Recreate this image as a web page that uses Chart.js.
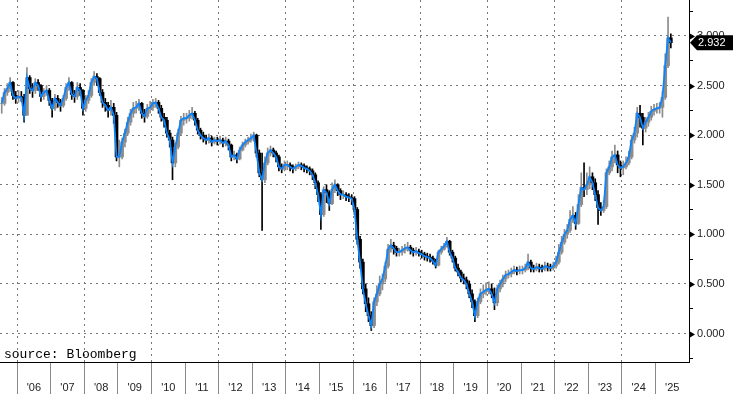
<!doctype html>
<html lang="en">
<head>
<meta charset="utf-8">
<title>Bloomberg chart</title>
<script src="https://cdn.jsdelivr.net/npm/chart.js@4.4.1/dist/chart.umd.min.js"></script>
<style>
  * { margin: 0; padding: 0; box-sizing: border-box; }
  html, body { background: #fff; }
  #canvas { display: block; }
</style>
</head>
<body>
<canvas id="canvas" width="733" height="394"></canvas>
<script>
// monthly bars, starting Jul 2005
var startYear = 2005
var startMonth = 7
var monthlyClose = [
  2.32, 2.43, 2.47, 2.53, 2.40, 2.37,                               // 2005 H2
  2.39, 2.38, 2.20, 2.58, 2.47, 2.45, 2.53, 2.50, 2.39, 2.43, 2.45, 2.35, // 2006
  2.27, 2.37, 2.33, 2.30, 2.37, 2.48, 2.53, 2.41, 2.39, 2.48, 2.45, 2.27, // 2007
  2.35, 2.40, 2.53, 2.59, 2.57, 2.43, 2.33, 2.30, 2.25, 2.28, 2.20, 1.78, // 2008
  1.78, 1.93, 2.02, 2.13, 2.22, 2.27, 2.28, 2.32, 2.22, 2.19, 2.27, 2.28, // 2009
  2.32, 2.33, 2.27, 2.18, 2.15, 2.02, 1.95, 1.72, 1.88, 2.02, 2.15, 2.17, // 2010
  2.17, 2.20, 2.22, 2.15, 2.05, 2.00, 1.97, 1.95, 1.97, 1.93, 1.95, 1.94, // 2011
  1.95, 1.92, 1.94, 1.90, 1.78, 1.80, 1.76, 1.85, 1.90, 1.93, 1.95, 1.97, // 2012
  2.00, 1.82, 1.62, 1.55, 1.72, 1.82, 1.85, 1.82, 1.78, 1.68, 1.66, 1.70, // 2013
  1.70, 1.68, 1.66, 1.68, 1.70, 1.69, 1.67, 1.66, 1.64, 1.60, 1.52, 1.40, // 2014
  1.20, 1.45, 1.42, 1.31, 1.45, 1.50, 1.44, 1.40, 1.40, 1.38, 1.37, 1.36, // 2015
  1.25, 0.95, 0.72, 0.45, 0.30, 0.18, 0.08, 0.32, 0.40, 0.50, 0.55, 0.68, // 2016
  0.85, 0.89, 0.86, 0.82, 0.82, 0.84, 0.86, 0.87, 0.84, 0.82, 0.83, 0.81, // 2017
  0.80, 0.78, 0.77, 0.76, 0.73, 0.69, 0.82, 0.85, 0.88, 0.93, 0.82, 0.76, // 2018
  0.66, 0.62, 0.56, 0.54, 0.50, 0.40, 0.32, 0.18, 0.32, 0.40, 0.42, 0.44, // 2019
  0.45, 0.40, 0.31, 0.45, 0.50, 0.55, 0.59, 0.60, 0.62, 0.64, 0.63, 0.64, // 2020
  0.64, 0.66, 0.72, 0.66, 0.65, 0.67, 0.66, 0.65, 0.68, 0.67, 0.66, 0.68, // 2021
  0.72, 0.82, 0.92, 1.00, 1.04, 1.15, 1.19, 1.11, 1.30, 1.47, 1.45, 1.50, // 2022
  1.58, 1.52, 1.40, 1.27, 1.24, 1.28, 1.62, 1.68, 1.78, 1.80, 1.70, 1.67, // 2023
  1.68, 1.72, 1.78, 1.95, 2.02, 2.22, 2.18, 2.07, 2.13, 2.18, 2.24, 2.26, // 2024
  2.27, 2.28, 2.38, 2.70, 2.98, 2.932                                // 2025 H1
]
var monthlyHigh = [
  2.38, 2.47, 2.52, 2.58, 2.54, 2.44,
  2.45, 2.44, 2.41, 2.68, 2.60, 2.52, 2.57, 2.56, 2.51, 2.47, 2.50, 2.47,
  2.37, 2.41, 2.40, 2.36, 2.40, 2.52, 2.58, 2.54, 2.45, 2.53, 2.52, 2.46,
  2.40, 2.45, 2.57, 2.64, 2.62, 2.58, 2.46, 2.37, 2.33, 2.35, 2.32, 2.23,
  1.95, 1.97, 2.06, 2.18, 2.26, 2.33, 2.34, 2.36, 2.33, 2.26, 2.31, 2.34,
  2.36, 2.37, 2.35, 2.30, 2.22, 2.18, 2.05, 1.98, 1.92, 2.06, 2.19, 2.22,
  2.22, 2.25, 2.28, 2.24, 2.17, 2.07, 2.03, 2.00, 2.01, 1.99, 1.98, 1.98,
  1.99, 1.97, 1.98, 1.96, 1.91, 1.84, 1.82, 1.88, 1.93, 1.96, 1.98, 2.01,
  2.03, 2.01, 1.85, 1.82, 1.78, 1.87, 1.89, 1.87, 1.84, 1.80, 1.71, 1.74,
  1.74, 1.72, 1.70, 1.71, 1.73, 1.72, 1.71, 1.69, 1.68, 1.66, 1.62, 1.54,
  1.42, 1.48, 1.50, 1.44, 1.52, 1.55, 1.51, 1.46, 1.44, 1.42, 1.41, 1.40,
  1.38, 1.27, 0.98, 0.75, 0.50, 0.36, 0.22, 0.36, 0.48, 0.58, 0.60, 0.72,
  0.90, 0.95, 0.92, 0.88, 0.86, 0.88, 0.90, 0.92, 0.89, 0.86, 0.87, 0.85,
  0.84, 0.82, 0.81, 0.80, 0.78, 0.75, 0.84, 0.88, 0.91, 0.97, 0.94, 0.84,
  0.78, 0.70, 0.64, 0.60, 0.57, 0.53, 0.44, 0.34, 0.36, 0.45, 0.49, 0.51,
  0.52, 0.50, 0.46, 0.49, 0.54, 0.59, 0.63, 0.64, 0.66, 0.68, 0.67, 0.68,
  0.68, 0.70, 0.80, 0.74, 0.69, 0.71, 0.70, 0.69, 0.72, 0.71, 0.70, 0.72,
  0.78, 0.90, 0.98, 1.05, 1.10, 1.24, 1.28, 1.22, 1.40, 1.62, 1.72, 1.62,
  1.68, 1.62, 1.56, 1.44, 1.32, 1.34, 1.66, 1.74, 1.84, 1.90, 1.84, 1.74,
  1.74, 1.78, 1.84, 1.99, 2.08, 2.28, 2.30, 2.22, 2.18, 2.23, 2.29, 2.31,
  2.32, 2.33, 2.44, 2.82, 3.19, 3.02
]
var monthlyLow = [
  2.22, 2.30, 2.40, 2.44, 2.36, 2.32,
  2.33, 2.34, 2.13, 2.20, 2.42, 2.38, 2.42, 2.45, 2.34, 2.36, 2.40, 2.30,
  2.18, 2.25, 2.28, 2.24, 2.28, 2.35, 2.45, 2.36, 2.33, 2.36, 2.40, 2.20,
  2.24, 2.32, 2.38, 2.50, 2.50, 2.40, 2.28, 2.24, 2.18, 2.20, 2.12, 1.74,
  1.68, 1.76, 1.88, 2.00, 2.10, 2.18, 2.22, 2.25, 2.17, 2.13, 2.17, 2.22,
  2.25, 2.28, 2.22, 2.14, 2.08, 1.98, 1.88, 1.55, 1.68, 1.86, 2.00, 2.10,
  2.12, 2.14, 2.16, 2.10, 2.01, 1.96, 1.93, 1.91, 1.92, 1.89, 1.91, 1.90,
  1.91, 1.88, 1.89, 1.85, 1.74, 1.75, 1.72, 1.75, 1.84, 1.88, 1.91, 1.93,
  1.94, 1.78, 1.58, 1.04, 1.52, 1.70, 1.79, 1.78, 1.73, 1.64, 1.62, 1.64,
  1.65, 1.64, 1.62, 1.64, 1.66, 1.65, 1.63, 1.62, 1.60, 1.55, 1.46, 1.33,
  1.05, 1.18, 1.32, 1.24, 1.30, 1.42, 1.39, 1.35, 1.36, 1.34, 1.33, 1.30,
  1.20, 0.90, 0.66, 0.40, 0.22, 0.12, 0.03, 0.06, 0.28, 0.38, 0.44, 0.52,
  0.66, 0.82, 0.80, 0.78, 0.78, 0.79, 0.81, 0.83, 0.80, 0.78, 0.79, 0.78,
  0.76, 0.74, 0.73, 0.72, 0.70, 0.66, 0.68, 0.80, 0.84, 0.87, 0.79, 0.72,
  0.63, 0.58, 0.52, 0.50, 0.45, 0.36, 0.26, 0.12, 0.16, 0.30, 0.36, 0.39,
  0.40, 0.36, 0.24, 0.28, 0.42, 0.47, 0.52, 0.56, 0.57, 0.60, 0.59, 0.60,
  0.60, 0.62, 0.64, 0.62, 0.62, 0.63, 0.62, 0.62, 0.63, 0.63, 0.63, 0.64,
  0.66, 0.70, 0.80, 0.90, 0.96, 1.02, 1.12, 1.05, 1.10, 1.28, 1.38, 1.40,
  1.46, 1.45, 1.34, 1.10, 1.19, 1.22, 1.26, 1.60, 1.64, 1.72, 1.62, 1.58,
  1.60, 1.66, 1.70, 1.76, 1.92, 1.98, 2.08, 1.90, 2.03, 2.09, 2.15, 2.20,
  2.22, 2.22, 2.18, 2.36, 2.68, 2.88
]

var yearTicks = [2006, 2007, 2008, 2009, 2010, 2011, 2012, 2013, 2014, 2015,
                 2016, 2017, 2018, 2019, 2020, 2021, 2022, 2023, 2024, 2025]
var yearLabels = ["'06", "'07", "'08", "'09", "'10", "'11", "'12", "'13", "'14", "'15",
                  "'16", "'17", "'18", "'19", "'20", "'21", "'22", "'23", "'24", "'25"]
var yTicks = [-0.25, 0, 0.25, 0.5, 0.75, 1, 1.25, 1.5, 1.75, 2, 2.25, 2.5, 2.75, 3, 3.25]
var lastValue = 2.932
var sourceText = 'source: Bloomberg'

function monthX(year, month) { return year + (month - 0.5) / 12 }

var linePts = [], bodyPts = [], wickPts = [], barColors = []
monthlyClose.forEach(function (c, i) {
  var m = startYear * 12 + (startMonth - 1) + i
  var x = monthX(Math.floor(m / 12), (m % 12) + 1)
  var prev = i > 0 ? monthlyClose[i - 1] : c
  linePts.push({ x: x, y: c })
  bodyPts.push({ x: x, y: [prev, c] })
  wickPts.push({ x: x, y: [monthlyLow[i], monthlyHigh[i]] })
  barColors.push(c >= prev ? '#8c8c8c' : '#000')
})

var isMajor = function (v) { return Math.abs(v * 2 - Math.round(v * 2)) < 1e-9 }
var labelFont = { family: 'Liberation Sans', size: 11 }

var extras = {
  id: 'extras',
  afterDraw: function (chart) {
    var ctx = chart.ctx
    var ys = chart.scales.y
    var right = chart.chartArea.right
    ctx.save()
    // arrow markers on major ticks
    ctx.fillStyle = '#000'
    yTicks.forEach(function (v) {
      if (!isMajor(v)) return
      var py = Math.round(ys.getPixelForValue(v)) + 0.5
      ctx.beginPath()
      ctx.moveTo(right + 1, py - 3)
      ctx.lineTo(right + 6, py)
      ctx.lineTo(right + 1, py + 3)
      ctx.closePath()
      ctx.fill()
    })
    // source note
    ctx.font = '13px "Liberation Mono"'
    ctx.textBaseline = 'alphabetic'
    ctx.fillText(sourceText, 4, 358)
    // last value tag
    var ly = ys.getPixelForValue(lastValue)
    ctx.beginPath()
    ctx.moveTo(right + 1, ly)
    ctx.lineTo(right + 8, ly - 7.5)
    ctx.lineTo(733, ly - 7.5)
    ctx.lineTo(733, ly + 7.5)
    ctx.lineTo(right + 8, ly + 7.5)
    ctx.closePath()
    ctx.fill()
    ctx.fillStyle = '#fff'
    ctx.font = '11px "Liberation Sans"'
    ctx.textBaseline = 'middle'
    ctx.fillText(lastValue.toFixed(3), right + 9, ly + 0.5)
    ctx.restore()
  }
}

var chart = new Chart(document.getElementById('canvas'), {
  type: 'line',
  data: {
    datasets: [
      { type: 'line', data: linePts, borderColor: '#0a84ff', borderWidth: 1.8, pointRadius: 0, tension: 0, order: 0 },
      { type: 'bar', data: bodyPts, backgroundColor: barColors, barThickness: 3, grouped: false, order: 1 },
      { type: 'bar', data: wickPts, backgroundColor: barColors, barThickness: 1, grouped: false, order: 2 }
    ]
  },
  options: {
    responsive: false,
    animation: false,
    devicePixelRatio: 1,
    layout: { padding: 0 },
    plugins: { legend: { display: false }, tooltip: { enabled: false } },
    scales: {
      x: {
        type: 'linear',
        min: 2005.49,
        max: 2025.999,
        offset: false,
        afterBuildTicks: function (scale) { scale.ticks = yearTicks.map(function (v) { return { value: v } }) },
        afterFit: function (scale) {
          scale.height = 32
          scale.paddingLeft = 0
          scale.paddingRight = 0
        },
        grid: {
          offset: false,
          color: function (c) { return c.tick && c.tick.value % 2 === 0 ? '#777' : 'rgba(0,0,0,0)' },
          tickColor: '#888',
          tickBorderDash: [],
          tickLength: 32
        },
        border: { display: true, color: '#000', dash: [2, 4] },
        ticks: {
          autoSkip: false,
          maxRotation: 0,
          labelOffset: 16.8,
          padding: -13,
          color: '#222',
          font: labelFont,
          callback: function (v) { var i = yearTicks.indexOf(v); return i >= 0 ? yearLabels[i] : '' }
        }
      },
      y: {
        position: 'right',
        min: -0.287,
        max: 3.362,
        afterBuildTicks: function (scale) { scale.ticks = yTicks.map(function (v) { return { value: v } }) },
        afterFit: function (scale) {
          scale.width = 44
          scale.paddingTop = 0
          scale.paddingBottom = 0
        },
        grid: {
          color: function (c) { return c.tick && isMajor(c.tick.value) ? '#777' : 'rgba(0,0,0,0)' },
          tickColor: '#000',
          tickBorderDash: [],
          tickLength: 4
        },
        border: { display: true, color: '#000', dash: [2, 4] },
        ticks: {
          autoSkip: false,
          padding: 4,
          color: '#222',
          font: labelFont,
          callback: function (v) { return isMajor(v) ? v.toFixed(3) : '' }
        }
      }
    }
  },
  plugins: [extras]
})
</script>
</body>
</html>
